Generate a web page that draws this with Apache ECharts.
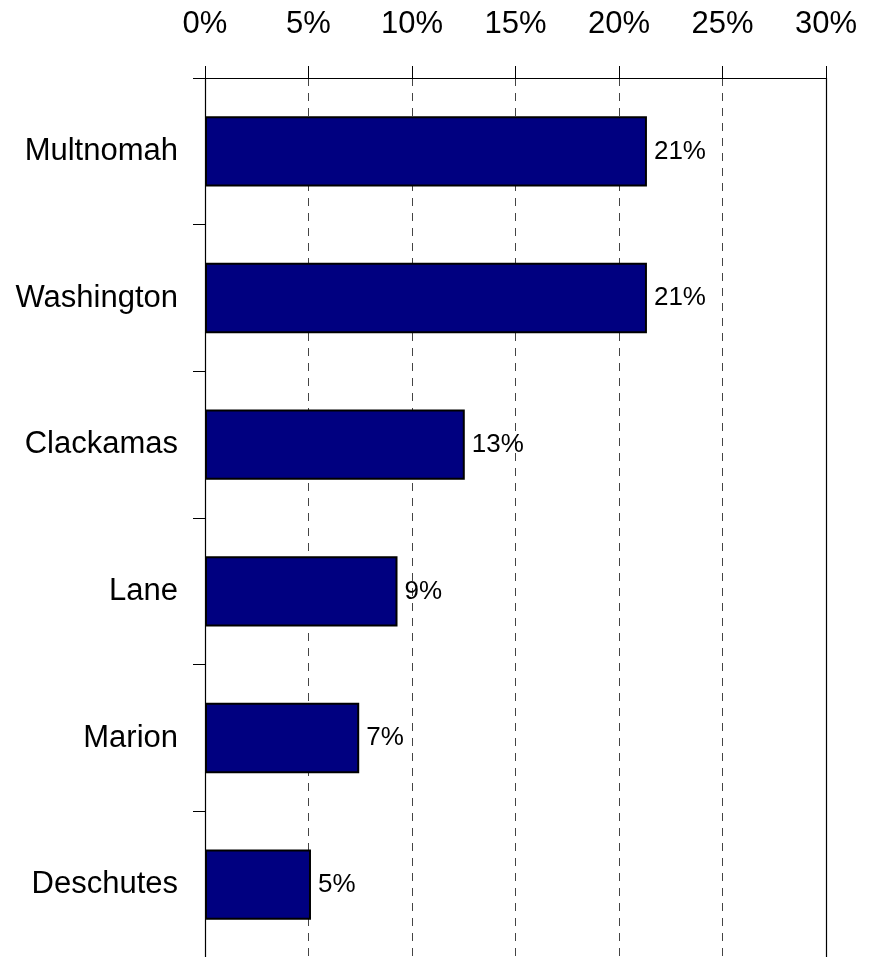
<!DOCTYPE html>
<html>
<head>
<meta charset="utf-8">
<style>
  html, body { margin: 0; padding: 0; background: #fff; }
  #chart { width: 878px; height: 957px; }
</style>
<script src="https://cdn.jsdelivr.net/npm/echarts@6/dist/echarts.min.js"></script>
</head>
<body>
<div id="chart"></div>
<script>
// County shares (percent)
const counties = ['Multnomah', 'Washington', 'Clackamas', 'Lane', 'Marion', 'Deschutes'];
const shares = [21.35, 21.35, 12.55, 9.3, 7.45, 5.12];
const axisTicks = [0, 5, 10, 15, 20, 25, 30];

const FONT = "'Liberation Sans', Arial, sans-serif";

const chart = echarts.init(document.getElementById('chart'), null, { renderer: 'canvas' });

chart.setOption({
  animation: false,
  backgroundColor: '#ffffff',
  grid: { left: 205, right: 52, top: 78, height: 880, containLabel: false, outerBoundsMode: 'none' },
  xAxis: {
    type: 'value',
    position: 'top',
    min: axisTicks[0],
    max: axisTicks[axisTicks.length - 1],
    interval: axisTicks[1] - axisTicks[0],
    axisLine: { show: true, lineStyle: { color: '#000', width: 1.2 } },
    axisTick: { show: true, inside: false, length: 12, lineStyle: { color: '#000', width: 1 } },
    axisLabel: {
      margin: 38,
      color: '#000',
      fontFamily: FONT,
      fontSize: 31,
      formatter: v => v + '%'
    },
    splitLine: { show: true, lineStyle: { color: '#444', type: [8, 7], width: 1 } }
  },
  yAxis: [
    {
      type: 'category',
      inverse: true,
      data: counties,
      axisLine: { show: true, lineStyle: { color: '#000', width: 1.2 } },
      axisTick: { show: true, inside: false, length: 12, lineStyle: { color: '#000', width: 1 } },
      axisLabel: { margin: 27, color: '#000', fontFamily: FONT, fontSize: 31 },
      splitLine: { show: false }
    },
    {
      // right-hand frame line at the 30% edge
      type: 'category',
      inverse: true,
      position: 'right',
      data: counties,
      axisLine: { show: true, lineStyle: { color: '#000', width: 1.2 } },
      axisTick: { show: false },
      axisLabel: { show: false },
      splitLine: { show: false }
    }
  ],
  series: [{
    type: 'bar',
    data: shares,
    barWidth: '48%',
    itemStyle: { color: '#000080', borderColor: '#000', borderWidth: 2 },
    label: {
      show: true,
      position: 'right',
      distance: 7,
      color: '#000',
      fontFamily: FONT,
      fontSize: 26,
      formatter: p => Math.round(p.value) + '%'
    }
  }]
});
</script>
</body>
</html>
